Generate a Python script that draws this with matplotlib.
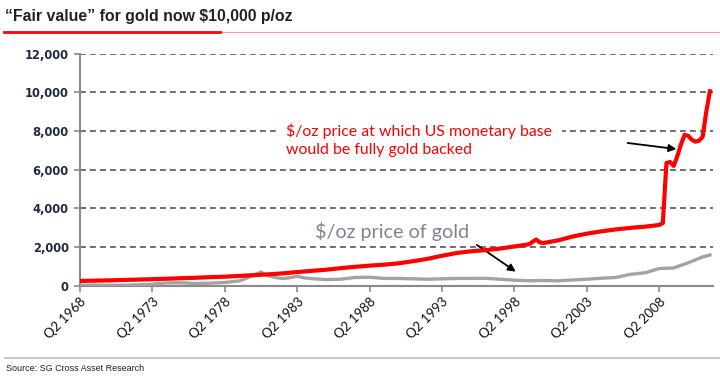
import numpy as np
import matplotlib
matplotlib.use('Agg')
import matplotlib.pyplot as plt
from matplotlib.lines import Line2D

# quarter index 0 = Q2 1968
tick_pos = [0, 20, 40, 60, 80, 100, 120, 140, 160]
tick_labels = ['Q2 1968', 'Q2 1973', 'Q2 1978', 'Q2 1983', 'Q2 1988',
               'Q2 1993', 'Q2 1998', 'Q2 2003', 'Q2 2008']

# "fair value": $/oz price at which US monetary base would be fully gold backed
fair_q = [0, 4, 8, 12, 16, 20, 24, 28, 32, 36, 40, 44, 48, 52, 56, 60, 64, 68,
          72, 76, 80, 84, 88, 92, 96, 100, 104, 108, 112, 116, 120, 124, 126,
          127, 128, 132, 136, 140, 144, 148, 152, 156, 160, 161, 162, 163, 164,
          165, 166, 167, 168, 169, 170, 171, 172, 173, 174]
fair_val = [260, 275, 290, 310, 330, 350, 375, 400, 425, 455, 480, 520, 560,
            600, 650, 720, 780, 840, 920, 990, 1050, 1100, 1170, 1280, 1400,
            1560, 1700, 1790, 1850, 1930, 2040, 2150, 2400, 2250, 2220, 2350,
            2550, 2700, 2820, 2920, 3000, 3060, 3150, 3250, 6350, 6400, 6200,
            6700, 7300, 7800, 7750, 7550, 7450, 7500, 7700, 9000, 10050]

# $/oz price of gold
gold_q = [0, 4, 8, 12, 16, 20, 24, 28, 32, 36, 40, 44, 46, 48, 50, 52, 54, 56,
          58, 60, 62, 64, 68, 72, 76, 80, 84, 88, 92, 96, 100, 104, 108, 112,
          116, 120, 124, 128, 132, 136, 140, 144, 148, 152, 156, 160, 164, 168,
          172, 174]
gold_val = [40, 42, 36, 40, 58, 95, 160, 165, 125, 145, 180, 260, 400, 560,
            720, 520, 440, 380, 430, 500, 420, 380, 330, 350, 440, 450, 390,
            390, 370, 350, 370, 390, 390, 395, 350, 300, 270, 285, 265, 310,
            350, 400, 440, 600, 680, 900, 930, 1200, 1500, 1600]

plt.rcParams['font.family'] = ['Lato', 'DejaVu Sans']

fig = plt.figure(figsize=(7.2, 3.76), dpi=100)
ax = fig.add_axes([0.111, 0.2394, 0.879, 0.6183])

ax.set_xlim(0, 174.8)
ax.set_ylim(0, 12000)

for v in range(2000, 12001, 2000):
    ax.axhline(v, color='#555555', lw=1.2, ls=(0, (3.5, 2.5)), zorder=1)

ax.plot(gold_q, gold_val, color='#a3a3a3', lw=2.4, zorder=3)
ax.plot(fair_q, fair_val, color='#ff0000', lw=3.0, zorder=4)

ax.set_yticks(range(0, 12001, 2000))
ax.set_yticklabels([f'{v:,}' for v in range(0, 12001, 2000)],
                   family='DejaVu Sans', fontsize=8.3, fontweight='bold',
                   color='#1f2a44')
ax.set_xticks(tick_pos)
ax.set_xticklabels(tick_labels, rotation=45, ha='right',
                   rotation_mode='anchor', fontsize=9.5, color='#111111')

for side in ['top', 'right']:
    ax.spines[side].set_visible(False)
for side in ['left', 'bottom']:
    ax.spines[side].set_color('#8a8a8a')
    ax.spines[side].set_linewidth(1.5)
ax.tick_params(axis='both', colors='#8a8a8a', length=4, width=1.2)
ax.tick_params(axis='y', labelcolor='#1f2a44', pad=4)
ax.tick_params(axis='x', labelcolor='#111111', pad=3)

ax.text(57, 7540, '$/oz price at which US monetary base\nwould be fully gold backed',
        color='#ff0000', fontsize=11.4, linespacing=1.3, va='center', zorder=5,
        bbox=dict(boxstyle='square,pad=0.6', fc='white', ec='none'))
ax.annotate('', xy=(165.5, 7050), xytext=(150.5, 7400),
            arrowprops=dict(arrowstyle='-|>', color='black', lw=1.3,
                            mutation_scale=11), zorder=6)

ax.text(65, 2820, '$/oz price of gold', color='#7d8592', fontsize=14.2,
        va='center')
ax.annotate('', xy=(121, 660), xytext=(109, 2200),
            arrowprops=dict(arrowstyle='-|>', color='black', lw=1.3,
                            mutation_scale=11))

# title and rules
fig.text(0.007, 0.955, '\u201cFair value\u201d for gold now $10,000 p/oz',
         family='Liberation Sans', fontweight='bold', fontsize=11.4,
         color='#222222', va='center')
fig.add_artist(Line2D([0.305, 1.0], [0.915, 0.915], color='#ff9a9a', lw=0.8))
fig.add_artist(Line2D([0.005, 0.305], [0.915, 0.915], color='#ff0000', lw=2))
fig.add_artist(Line2D([0.007, 1.0], [0.048, 0.048], color='#c8c8c8', lw=1.5))
fig.text(0.009, 0.02, 'Source: SG Cross Asset Research', family='Liberation Sans',
         fontsize=6.5, color='#222222', va='center')

fig.savefig('out.png', dpi=100)
